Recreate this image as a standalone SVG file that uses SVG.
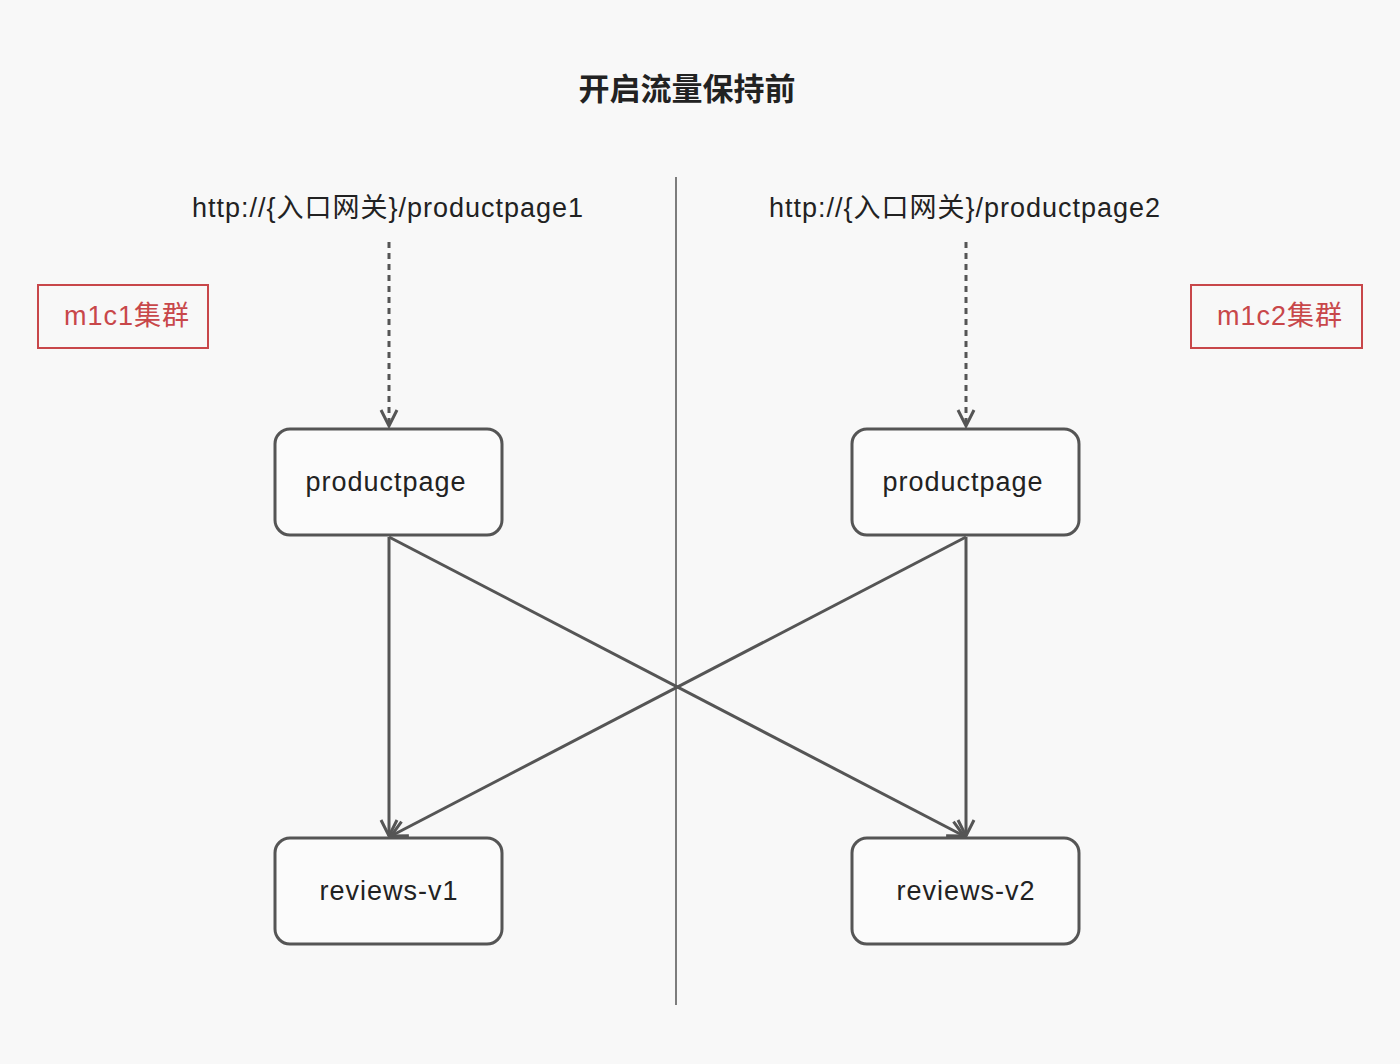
<svg xmlns="http://www.w3.org/2000/svg" width="1400" height="1064" viewBox="0 0 1400 1064">
<defs>
<style>
.bg{fill:#f8f8f8}
.node rect{fill:#fbfbfb;stroke:#555;stroke-width:3}
.node text{font-family:"Liberation Sans","Noto Sans CJK SC",sans-serif;font-size:27px;letter-spacing:1px;fill:#222;text-anchor:middle;dominant-baseline:central}
.url{font-family:"Liberation Sans","Noto Sans CJK SC",sans-serif;font-size:27px;letter-spacing:1px;fill:#222;text-anchor:middle}
.title{font-family:"Noto Sans CJK SC",sans-serif;font-size:31px;font-weight:bold;fill:#222;text-anchor:middle}
.cluster rect{fill:none;stroke:#c8474a;stroke-width:2}
.cluster text{font-family:"Liberation Sans","Noto Sans CJK SC",sans-serif;font-size:27px;letter-spacing:1px;fill:#c8474a;text-anchor:middle;dominant-baseline:central}
.edge{stroke:#555;stroke-width:3;fill:none;marker-end:url(#arr)}
.dash{stroke:#555;stroke-width:3;fill:none;stroke-dasharray:6 5;marker-end:url(#arr)}
</style>
<marker id="arr" viewBox="0 0 22 22" refX="18" refY="11" markerWidth="22" markerHeight="22" markerUnits="userSpaceOnUse" orient="auto">
<path d="M2,3 L18,11 L2,19" fill="none" stroke="#555" stroke-width="3"/>
</marker>
</defs>
<rect class="bg" x="0" y="0" width="1400" height="1064"/>
<text class="title" x="687" y="100">开启流量保持前</text>
<line x1="676" y1="177" x2="676" y2="1005" stroke="#555" stroke-width="1.5"/>
<text class="url" x="388" y="217">http://{入口网关}/productpage1</text>
<text class="url" x="965" y="217">http://{入口网关}/productpage2</text>
<g id="cluster1" class="cluster"><rect x="38" y="285" width="170" height="63"/><text x="127" y="316">m1c1集群</text></g>
<g id="cluster2" class="cluster"><rect x="1191" y="285" width="171" height="63"/><text x="1280" y="316">m1c2集群</text></g>
<g id="edges">
<line class="dash" x1="389" y1="242" x2="389" y2="426"/>
<line class="dash" x1="966" y1="242" x2="966" y2="426"/>
<line class="edge" x1="389" y1="537" x2="389" y2="836"/>
<line class="edge" x1="389" y1="537" x2="964" y2="836"/>
<line class="edge" x1="966" y1="537" x2="966" y2="836"/>
<line class="edge" x1="966" y1="537" x2="391" y2="836"/>
</g>
<g id="pp1" class="node"><rect x="275" y="429" width="227" height="106" rx="15"/><text x="386" y="482">productpage</text></g>
<g id="pp2" class="node"><rect x="852" y="429" width="227" height="106" rx="15"/><text x="963" y="482">productpage</text></g>
<g id="rv1" class="node"><rect x="275" y="838" width="227" height="106" rx="15"/><text x="389" y="891">reviews-v1</text></g>
<g id="rv2" class="node"><rect x="852" y="838" width="227" height="106" rx="15"/><text x="966" y="891">reviews-v2</text></g>
</svg>
